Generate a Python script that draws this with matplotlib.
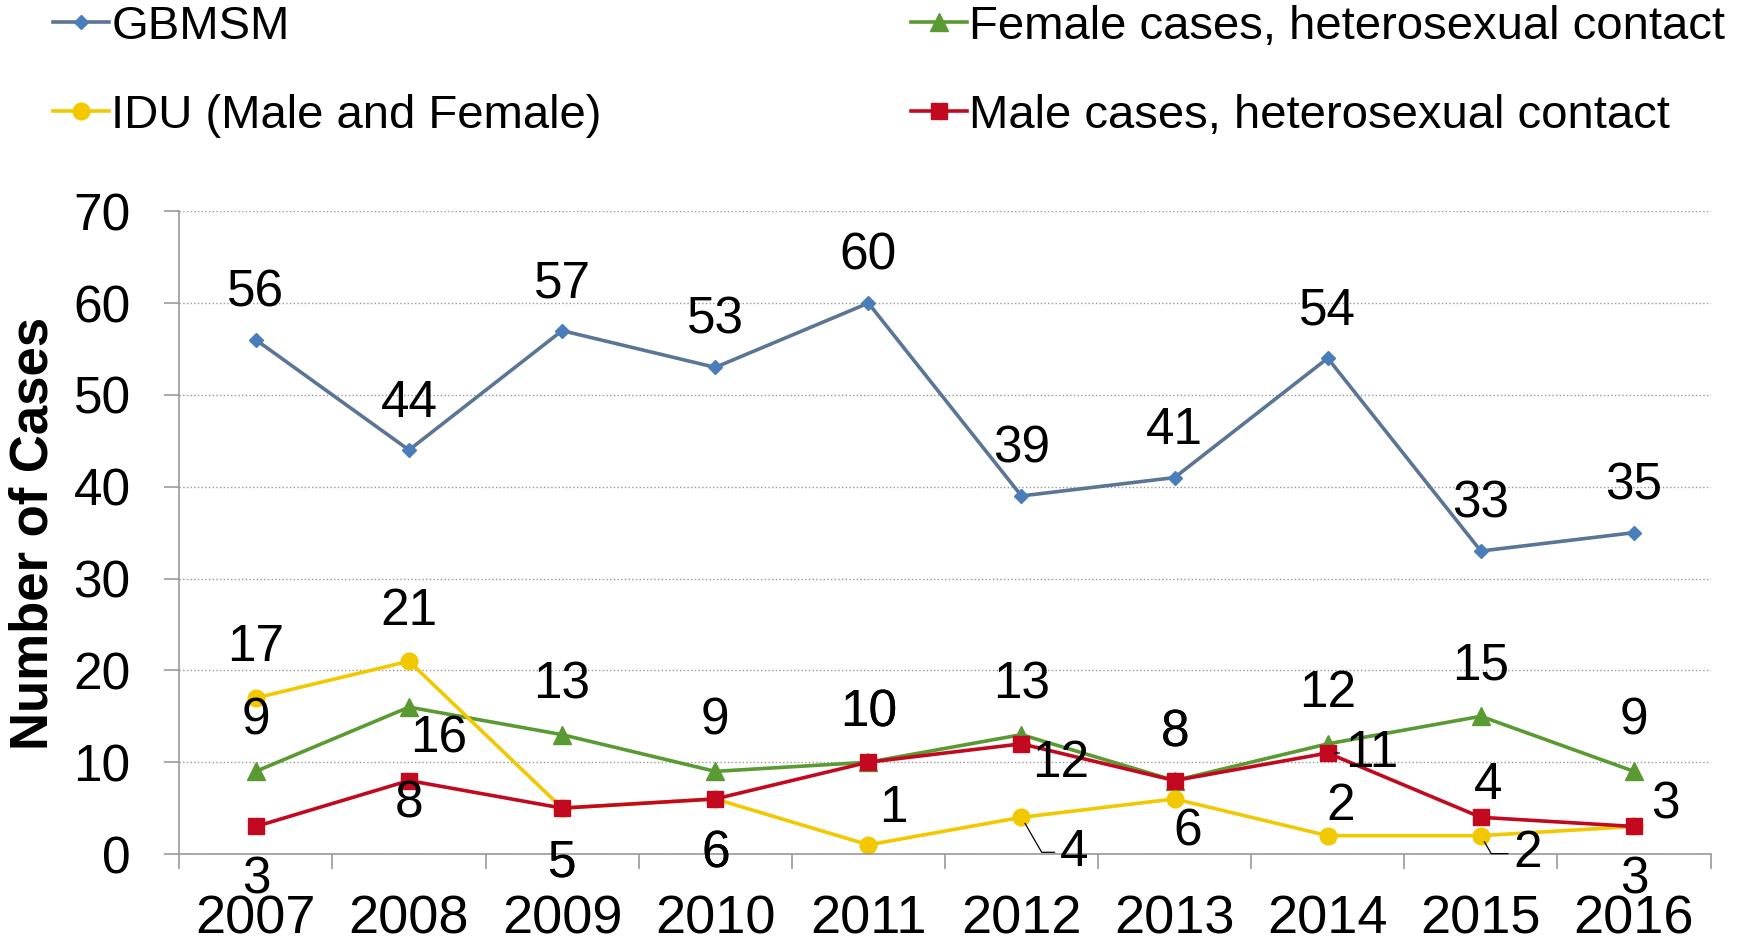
import matplotlib.pyplot as plt

# data
years = ['2007', '2008', '2009', '2010', '2011', '2012', '2013', '2014', '2015', '2016']
gbmsm = [56, 44, 57, 53, 60, 39, 41, 54, 33, 35]
female_het = [9, 16, 13, 9, 10, 13, 8, 12, 15, 9]
idu = [17, 21, 5, 6, 1, 4, 6, 2, 2, 3]
male_het = [3, 8, 5, 6, 10, 12, 8, 11, 4, 3]

# label offsets in pixels (dx, dy up)
off_gbmsm = [(0, 47)] * 10
off_female = [(0, 50), (30, -32), (0, 50), (0, 50), (0, 49), (0, 50), (0, 48), (0, 50), (0, 50), (0, 50)]
off_idu = [(0, 50), (0, 50), (0, -55), (0, -55), (25, 36), (53, -35), (13, -33), (13, 29), (47, -18), (0, -54)]
off_male = [(0, -54), (0, -23), (0, -55), (0, -55), (0, 49), (39, -20), (0, 48), (44, 0), (7, 32), (31, 21)]
leaders_idu = {5: 'angle,angleA=0,angleB=-60,rad=0', 8: 'angle,angleA=0,angleB=-60,rad=0'}
leaders_male = {7: 'arc3'}

plt.rcParams['font.family'] = ['Liberation Sans', 'DejaVu Sans']

fig = plt.figure(figsize=(17.58, 9.39), dpi=100)
ax = fig.add_axes([0.102, 0.0905, 0.871, 0.6845])

x = list(range(len(years)))
series = [
    ('GBMSM', gbmsm, '#5B7594', '#4A7EBB', 'D', 7, off_gbmsm, {}),
    ('Female cases, heterosexual contact', female_het, '#5A9A33', '#5A9A33', '^', 13, off_female, {}),
    ('IDU (Male and Female)', idu, '#F2C800', '#F2C800', 'o', 12, off_idu, leaders_idu),
    ('Male cases, heterosexual contact', male_het, '#C3091F', '#C3091F', 's', 12, off_male, leaders_male),
]

handles = {}
for name, vals, lc, mc, mk, ms, offs, leads in series:
    h, = ax.plot(x, vals, color=lc, lw=2.6, marker=mk, markersize=ms,
                 markerfacecolor=mc, markeredgecolor=mc, label=name)
    handles[name] = h
    for i, v in enumerate(vals):
        dx, dy = offs[i]
        kw = {}
        if i in leads:
            kw['arrowprops'] = dict(arrowstyle='-', color='black', lw=0.9,
                                    shrinkA=2, shrinkB=5, relpos=(0, 0.5),
                                    connectionstyle=leads[i])
        ax.annotate(str(v), (i, v), xytext=(dx, dy), textcoords='offset pixels',
                    ha='center', va='center', fontsize=37, **kw)

ax.set_xlim(-0.5, 9.5)
ax.set_ylim(0, 70)
ax.set_yticks(range(0, 71, 10))
ax.set_xticks(x)
ax.set_xticklabels(years, fontsize=39)
ax.set_xticks([i - 0.5 for i in range(11)], minor=True)
ax.tick_params(axis='x', which='major', length=0, pad=29)
ax.tick_params(axis='x', which='minor', length=11, color='#999999', width=1.2)
ax.tick_params(axis='y', length=11, color='#999999', width=1.2, pad=24, labelsize=37)
ax.grid(axis='y', color='#999999', linestyle=':', lw=1.0)
ax.set_axisbelow(True)
for s in ['top', 'right']:
    ax.spines[s].set_visible(False)
for s in ['left', 'bottom']:
    ax.spines[s].set_color('#999999')
    ax.spines[s].set_linewidth(1.2)

fig.text(34 / 1758, 0.432, 'Number of Cases', rotation=90, ha='center', va='center',
         fontsize=38, fontweight='bold')

leg_kw = dict(frameon=False, handlelength=1.19, handletextpad=0.05,
              labelspacing=0.95, borderpad=0, borderaxespad=0, loc='upper left',
              prop={'size': 34})
fig.legend([handles['GBMSM'], handles['IDU (Male and Female)']],
           ['GBMSM', 'IDU (Male and Female)'], bbox_to_anchor=(0.030, 0.995), **leg_kw)
fig.legend([handles['Female cases, heterosexual contact'], handles['Male cases, heterosexual contact']],
           ['Female cases, heterosexual contact', 'Male cases, heterosexual contact'],
           bbox_to_anchor=(0.518, 0.995), **leg_kw)

fig.savefig('out.png', dpi=100)
